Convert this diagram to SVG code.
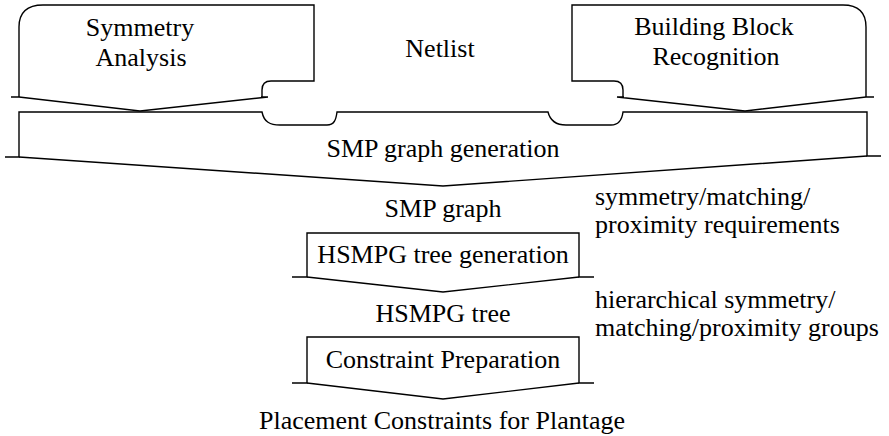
<svg xmlns="http://www.w3.org/2000/svg" width="889" height="436" viewBox="0 0 889 436">
<style>
.ln{fill:none;stroke:#000;stroke-width:1.4;stroke-linejoin:miter}
text{font-family:'Liberation Serif','DejaVu Serif',serif;font-size:26px;fill:#000}
.m{text-anchor:middle}
</style>
<rect width="889" height="436" fill="#fff"/>
<g id="symmetry-analysis">
<path class="ln" d="M19,97 V27 Q19,5 43,5 H314 V81 H271 Q262,81 262,90 V97"/>
<path class="ln" d="M11,97 H19 L140,111 L268,97 H261"/>
<text class="m" x="140" y="36" font-family="Liberation Serif">Symmetry</text>
<text class="m" x="141" y="66" font-family="Liberation Serif">Analysis</text>
</g>
<g id="netlist">
<text class="m" x="440" y="57" font-family="Liberation Serif">Netlist</text>
</g>
<g id="building-block-recognition">
<path class="ln" d="M866,97 V27 Q866,5 843,5 H572 V81 H614 Q623,81 623,90 V97"/>
<path class="ln" d="M874,97 H866 L745,111 L617,97 H624"/>
<text class="m" x="714" y="35" font-family="Liberation Serif">Building Block</text>
<text class="m" x="716" y="65" font-family="Liberation Serif">Recognition</text>
</g>
<g id="smp-graph-generation">
<path class="ln" d="M5,157 H19 V112 H262 C264,122 270,125 280,125 H327 C334,125 336,120 337,112 H548 C550,120 556,125 566,125 H611 C619,125 622,120 623,112 H867 V156 H881"/>
<path class="ln" d="M19,157 L443,186 L867,156"/>
<text class="m" x="443" y="157" font-family="Liberation Serif">SMP graph generation</text>
</g>
<g id="hsmpg-tree-generation">
<path class="ln" d="M292,277 H307 V233 H579 V277 H594"/>
<path class="ln" d="M307,277 L443,292 L579,277"/>
<text class="m" x="443" y="263" font-family="Liberation Serif">HSMPG tree generation</text>
</g>
<g id="constraint-preparation">
<path class="ln" d="M292,383 H307 V337 H579 V383 H594"/>
<path class="ln" d="M307,383 L443,399 L579,383"/>
<text class="m" x="443" y="368" font-family="Liberation Serif">Constraint Preparation</text>
</g>
<g id="connectors">
<text class="m" x="443" y="217" font-family="Liberation Serif">SMP graph</text>
<text class="m" x="443" y="322" font-family="Liberation Serif">HSMPG tree</text>
<text class="m" x="442" y="429" font-family="Liberation Serif">Placement Constraints for Plantage</text>
<text x="595" y="205" font-family="Liberation Serif">symmetry/matching/</text>
<text x="595" y="233" font-family="Liberation Serif">proximity requirements</text>
<text x="595" y="308" font-family="Liberation Serif">hierarchical symmetry/</text>
<text x="595" y="336" font-family="Liberation Serif">matching/proximity groups</text>
</g>
</svg>
